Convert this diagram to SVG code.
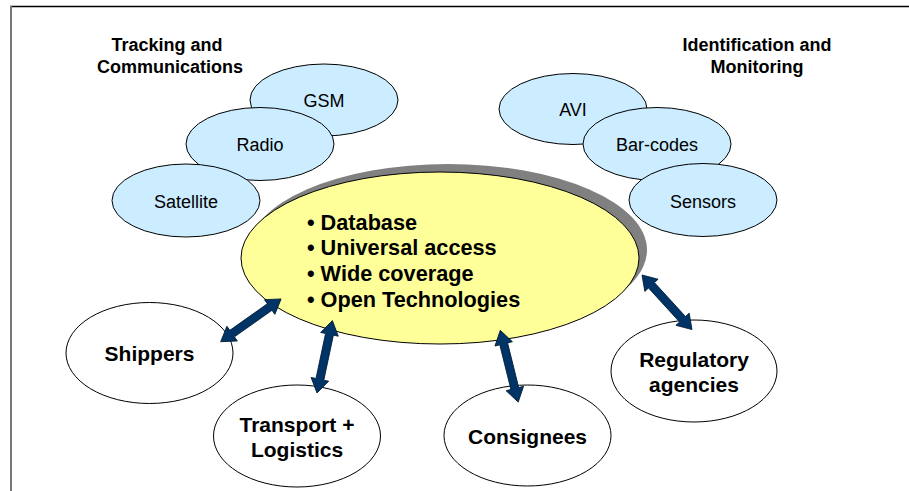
<svg xmlns="http://www.w3.org/2000/svg" xmlns:xlink="http://www.w3.org/1999/xlink" width="909" height="491" viewBox="0 0 909 491">
<style>
.bg{fill:#ffffff}
.small{fill:#CCECFF;stroke:#000;stroke-width:1}
.big{fill:#ffffff;stroke:#000;stroke-width:1}
.stxt{font-family:"Liberation Sans",Arial,sans-serif;font-size:18px;fill:#000;text-anchor:middle}
.btxt{font-family:"Liberation Sans",Arial,sans-serif;font-size:21px;font-weight:bold;fill:#000;text-anchor:middle}
.hdr{font-family:"Liberation Sans",Arial,sans-serif;font-size:18px;font-weight:bold;fill:#000;text-anchor:middle}
.main{font-family:"Liberation Sans",Arial,sans-serif;font-size:21.7px;font-weight:bold;fill:#000}
.arrow{fill:#003366;stroke:#001a33;stroke-width:0.8;stroke-linejoin:miter}
</style>
<defs>
<path id="dbl" d="M0,0 L14,-9 L14,-4 L60,-4 L60,-9 L74,0 L60,9 L60,4 L14,4 L14,9 Z"/>
</defs>
<rect class="bg" x="0" y="0" width="909" height="491"/>
<line x1="10" y1="6.5" x2="909" y2="6.5" stroke="#000" stroke-width="1.5"/>
<line x1="11" y1="6" x2="11" y2="491" stroke="#777" stroke-width="2"/>

<g id="label-tracking">
<text class="hdr" x="167" y="51">Tracking and</text>
<text class="hdr" x="170" y="73">Communications</text>
</g>
<g id="label-identification">
<text class="hdr" x="757" y="51">Identification and</text>
<text class="hdr" x="757" y="73">Monitoring</text>
</g>

<g id="gsm"><ellipse class="small" cx="324" cy="100" rx="74" ry="36"/><text class="stxt" x="324" y="107">GSM</text></g>
<g id="radio"><ellipse class="small" cx="260" cy="144" rx="74" ry="36.5"/><text class="stxt" x="260" y="151">Radio</text></g>
<g id="satellite"><ellipse class="small" cx="186" cy="200.5" rx="74" ry="36.5"/><text class="stxt" x="186" y="208">Satellite</text></g>

<g id="avi"><ellipse class="small" cx="573" cy="109" rx="74" ry="35.5"/><text class="stxt" x="573" y="116">AVI</text></g>
<g id="barcodes"><ellipse class="small" cx="657" cy="144" rx="74" ry="36.5"/><text class="stxt" x="657" y="151">Bar-codes</text></g>
<g id="sensors"><ellipse class="small" cx="703" cy="200" rx="74" ry="36.5"/><text class="stxt" x="703" y="208">Sensors</text></g>

<g id="center">
<ellipse cx="448" cy="250" rx="199" ry="86" fill="#808080"/>
<ellipse cx="440" cy="258" rx="199" ry="86" fill="#FFFF99" stroke="#000" stroke-width="1"/>
<text class="main" x="307" y="229.5">• Database</text>
<text class="main" x="307" y="255">• Universal access</text>
<text class="main" x="307" y="281">• Wide coverage</text>
<text class="main" x="307" y="306.5">• Open Technologies</text>
</g>

<g id="shippers"><ellipse class="big" cx="149.5" cy="353" rx="83.5" ry="50.5"/><text class="btxt" x="149.5" y="361">Shippers</text></g>
<g id="transport"><ellipse class="big" cx="297" cy="436" rx="83.5" ry="51"/><text class="btxt" x="297" y="431.5">Transport +</text><text class="btxt" x="297" y="456.5">Logistics</text></g>
<g id="consignees"><ellipse class="big" cx="527.5" cy="435.5" rx="83.5" ry="50.5"/><text class="btxt" x="527.5" y="443.5">Consignees</text></g>
<g id="regulatory"><ellipse class="big" cx="694" cy="371" rx="83" ry="51"/><text class="btxt" x="694" y="366.5">Regulatory</text><text class="btxt" x="694" y="391.5">agencies</text></g>

<g id="connectors">
<use xlink:href="#dbl" class="arrow" transform="translate(220.7,341.7) rotate(-35.3)"/>
<use xlink:href="#dbl" class="arrow" transform="translate(317,393) rotate(-78)"/>
<use xlink:href="#dbl" class="arrow" transform="translate(500.3,330.3) rotate(76)"/>
<use xlink:href="#dbl" class="arrow" transform="translate(642,275) rotate(47.5)"/>
</g>
</svg>
